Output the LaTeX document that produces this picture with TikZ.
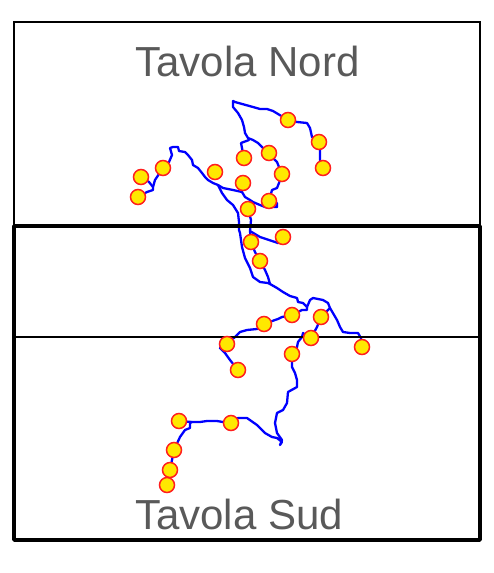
\documentclass[tikz,border=0pt]{standalone}
\usepackage{fontspec}
\setmainfont{Liberation Sans}
\usetikzlibrary{backgrounds}
\definecolor{trail}{RGB}{0,0,255}
\definecolor{haltfill}{RGB}{255,232,0}
\definecolor{haltedge}{RGB}{255,30,30}
\definecolor{labelgray}{RGB}{89,89,89}
\tikzset{
  halt/.style={circle, draw=haltedge, fill=haltfill, line width=1.5pt, minimum size=15pt, inner sep=0pt},
  route/.style={draw=trail, line width=2.3pt, line join=round, line cap=round},
  tavtitle/.style={text=labelgray, font=\fontsize{42}{44}\selectfont, anchor=base, inner sep=0pt}
}

\begin{document}
\begin{tikzpicture}[x=1pt, y=-1pt]
				\useasboundingbox (0,0) rectangle (494,573);
				% Frames and titles:
				\draw[line width=1.3pt] (14,22) rectangle (480,337);
				\draw[line width=3.5pt, line join=round] (14,226) rectangle (480,540);
				\node[tavtitle](tN) at (247.5,76){Tavola Nord};
				\node[tavtitle](tS) at (239,529){Tavola Sud};
				% Stops:
				\node[halt](s1) at (288,120){};
				\node[halt](s2) at (319,142){};
				\node[halt](s3) at (323,168){};
				\node[halt](s4) at (269,153){};
				\node[halt](s5) at (244,158){};
				\node[halt](s6) at (282,174){};
				\node[halt](s7) at (243,183){};
				\node[halt](s8) at (269,201){};
				\node[halt](s9) at (248,209){};
				\node[halt](s10) at (215,172){};
				\node[halt](s11) at (163,168){};
				\node[halt](s12) at (141,177){};
				\node[halt](s13) at (138,197){};
				\node[halt](s14) at (283,237){};
				\node[halt](s15) at (251,242){};
				\node[halt](s16) at (260,261){};
				\node[halt](s17) at (292,315){};
				\node[halt](s18) at (264,324){};
				\node[halt](s19) at (321,317){};
				\node[halt](s20) at (311,338){};
				\node[halt](s21) at (227,344){};
				\node[halt](s22) at (362,347){};
				\node[halt](s23) at (292,354){};
				\node[halt](s24) at (238,370){};
				\node[halt](s25) at (179,421){};
				\node[halt](s26) at (231,423){};
				\node[halt](s27) at (174,450){};
				\node[halt](s28) at (170,470){};
				\node[halt](s29) at (167,485){};
				% Tracks:
				\begin{pgfonlayer}{background}
				\coordinate (b1) at (153,187);
				\coordinate (b2) at (218,185);
				\coordinate (b3) at (250,231);
				\coordinate (J) at (270,284);
				\coordinate (K) at (307,307);
				\coordinate (c1) at (330,308);
				\coordinate (d1) at (192,422);
				\coordinate (e1) at (277,207);
				\draw[route] (s1) -- (273,111) -- (267,109) -- (260,109) -- (253,107) -- (235,102) -- (233,101) -- (233,107) -- (238,113) -- (242,120) -- (244,127) -- (245,133) -- (248,138) -- (253,140) -- (258,143) -- (263,148) -- (s4);
				\draw[route] (s5) -- (241,143) -- (249,140);
				\draw[route] (s4) -- (273,158) -- (277,162) -- (279,167) -- (s6);
				\draw[route] (s6) -- (279,183) -- (277,188) -- (272,190) -- (s8);
				\draw[route] (s8) -- (277,203) -- (e1);
				\draw[route] (s1) -- (297,122) -- (307,123) -- (310,128) -- (312,137) -- (s2);
				\draw[route] (s2) -- (320,150) -- (320,160) -- (s3);
				\draw[route] (s12) -- (149,182) -- (b1) -- (153,190) -- (147,192) -- (s13);
				\draw[route] (b1) -- (155,180) -- (157,177) -- (s11);
				\draw[route] (s11) -- (169,162) -- (172,155) -- (170,148) -- (173,147) -- (178,147) -- (179,151) -- (185,152) -- (188,155) -- (192,160) -- (193,165) -- (198,168) -- (202,173) -- (205,177) -- (208,180) -- (213,183) -- (b2) -- (223,188) -- (233,190) -- (242,192) -- (245,197) -- (250,200) -- (253,202) -- (260,205) -- (265,207) -- (e1);
				\draw[route] (b2) -- (222,193) -- (227,200) -- (233,205) -- (238,213) -- (239,222) -- (239,230) -- (240,233) -- (242,247) -- (245,258) -- (250,268) -- (253,277) -- (260,282) -- (268,283) -- (J);
				\draw[route] (s9) -- (251,220) -- (b3) -- (s15);
				\draw[route] (b3) -- (260,237) -- (278,243) -- (s14);
				\draw[route] (s15) -- (255,252) -- (s16);
				\draw[route] (s16) -- (265,270) -- (268,277) -- (J);
				\draw[route] (J) -- (277,288) -- (283,292) -- (290,296) -- (297,298) -- (298,302) -- (303,303) -- (K) -- (310,300) -- (313,298) -- (323,300) -- (328,303) -- (c1) -- (337,320) -- (340,327) -- (343,332) -- (350,333) -- (358,333) -- (361,338) -- (s22);
				\draw[route] (K) -- (307,310) -- (302,310) -- (s17);
				\draw[route] (s17) -- (282,317) -- (278,319) -- (275,320) -- (s18);
				\draw[route] (s18) -- (257,329) -- (247,330) -- (240,332) -- (235,337) -- (s21);
				\draw[route] (s21) -- (220,348) -- (225,353) -- (230,360) -- (s24);
				\draw[route] (c1) -- (s19);
				\draw[route] (s19) -- (317,327) -- (s20);
				\draw[route] (s20) -- (303,333) -- (302,337) -- (298,342) -- (297,347) -- (s23);
				\draw[route] (s23) -- (292,367) -- (295,373) -- (297,380) -- (297,387) -- (288,392) -- (287,403) -- (283,410) -- (277,413) -- (275,423) -- (277,433) -- (282,440) -- (280,445) -- (282,442) -- (277,438) -- (272,437) -- (265,433) -- (257,425) -- (247,418) -- (238,418) -- (s26);
				\draw[route] (s26) -- (223,422) -- (217,421) -- (207,421) -- (200,422) -- (d1) -- (190,423) -- (190,428) -- (185,430) -- (180,437) -- (s27);
				\draw[route] (d1) -- (s25);
				\draw[route] (s27) -- (s28);
				\end{pgfonlayer}
			\end{tikzpicture}
\end{document}
